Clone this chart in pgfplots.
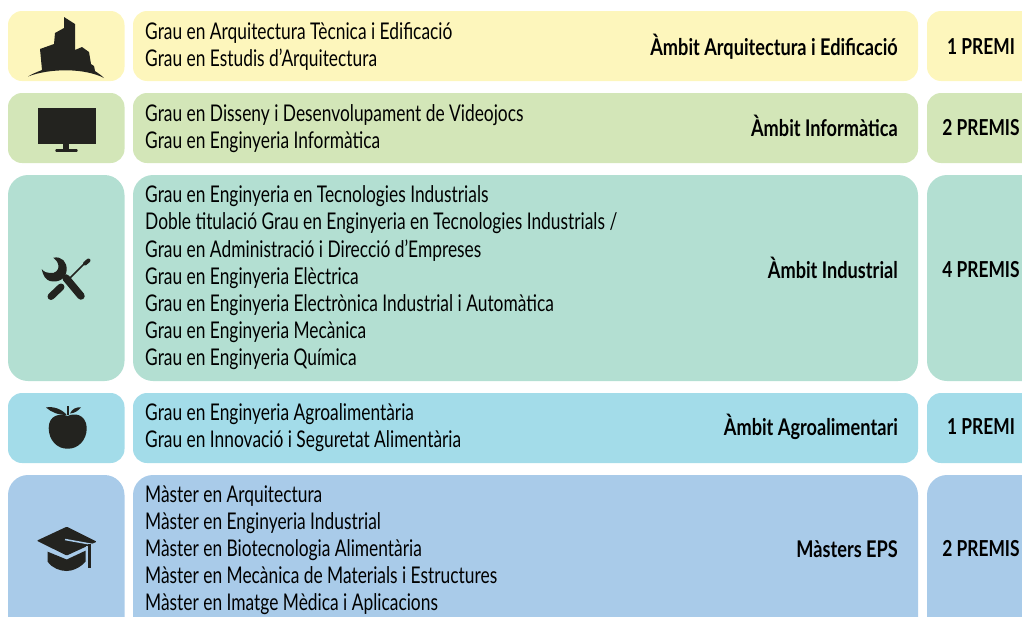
\documentclass[border=0pt]{standalone}
\usepackage{fontspec}
\setmainfont[FakeStretch=0.755,BoldFeatures={FakeStretch=0.79}]{Lato}
\usepackage{pgfplots}
\pgfplotsset{compat=1.18}
\definecolor{cy}{HTML}{FDF6BC}
\definecolor{cg}{HTML}{D3E6B8}
\definecolor{ct}{HTML}{B3DFD2}
\definecolor{cc}{HTML}{A3DCE9}
\definecolor{cb}{HTML}{A9CBE9}
\definecolor{ink}{HTML}{23231F}
\newcommand{\boxx}[6]{% x0 x1 y0 y1 colour radius
  \addplot[fill=#5,draw=none,no markers,rounded corners=#6pt] coordinates {({(#1+#2)/2},#3) (#2,#3) (#2,#4) (#1,#4) (#1,#3) ({(#1+#2)/2},#3)};}
\newcommand{\lft}[2]{\node[anchor=base west,inner sep=0pt,text=black,font=\fontsize{23}{23}\selectfont] at (145,{#1+7.8}) {#2};}
\newcommand{\rgt}[2]{\node[anchor=base east,inner sep=0pt,text=black,font=\fontsize{23}{23}\selectfont\bfseries] at (898,{#1+8}) {#2};}
\newcommand{\prm}[2]{\node[anchor=base,inner sep=0pt,text=black,font=\fontsize{22}{22}\selectfont\bfseries] at (981,{#1+7.6}) {#2};}
\begin{document}
\begin{tikzpicture}
\begin{axis}[scale only axis,width=1022pt,height=616pt,xmin=0,xmax=1022,ymin=0,ymax=616,y dir=reverse,axis line style={draw=none},ticks=none,clip=true]
% boxes
\boxx{8}{124.5}{11}{81}{cy}{14}
\boxx{133}{918}{11}{81}{cy}{14}
\boxx{927}{1060}{11}{81}{cy}{14}
\boxx{8}{124.5}{93}{163}{cg}{14}
\boxx{133}{918}{93}{163}{cg}{14}
\boxx{927}{1060}{93}{163}{cg}{14}
\boxx{8}{124.5}{175}{381}{ct}{20}
\boxx{133}{918}{175}{381}{ct}{20}
\boxx{927}{1060}{175}{381}{ct}{20}
\boxx{8}{124.5}{393}{463}{cc}{14}
\boxx{133}{918}{393}{463}{cc}{14}
\boxx{927}{1060}{393}{463}{cc}{14}
\boxx{8}{124.5}{475}{680}{cb}{20}
\boxx{133}{918}{475}{680}{cb}{20}
\boxx{927}{1060}{475}{680}{cb}{20}
% building
\fill[ink] (64,17) -- (75,24) -- (75,50) -- (82,47) -- (89,52) -- (91,64) -- (94,66) -- (95,71) .. controls (98,73) and (101,75) .. (104,78) .. controls (85,68) and (50,68) .. (28,76.5) .. controls (32,74) and (37,72) .. (42,70) -- (40,49) -- (54,44) -- (55,33) -- (64,28) -- cycle;
% monitor
\fill[ink] (37.7,108) rectangle (95.7,144.3);
\fill[ink] (63.3,144) rectangle (69.3,149.5);
\fill[ink,rounded corners=1pt] (55.3,149) rectangle (77.7,151.8);
% tools
\draw[ink,line width=7.5pt,line cap=round] (81,296) -- (66,278);
\fill[ink] (53.3,257.7) .. controls (62,256) and (67,262) .. (66.7,270) .. controls (66,279) and (58,283) .. (50,281) .. controls (46,280) and (43,276) .. (41.7,269) .. controls (44,272) and (47,273) .. (50,273) .. controls (55,274) and (59,270) .. (58.5,266) .. controls (58,262) and (56,260) .. (53.3,257.7) -- cycle;
\draw[ink,line width=7pt,line cap=round] (51,296.5) -- (61,287);
\draw[ink,line width=1.5pt] (70,278) -- (85,263);
\draw[ink,line width=4pt,line cap=round] (85,263.5) -- (88.5,260.5);
% apple
\fill[ink] (67.7,416) .. controls (73,413) and (86,413) .. (86.7,428) .. controls (87,440) and (78,449) .. (67.7,448.7) .. controls (57,449) and (48.7,440) .. (48.7,428) .. controls (48.7,415) and (60,413) .. (67.7,416) -- cycle;
\fill[ink] (46,407.5) .. controls (53,406) and (62,409) .. (66.7,415) .. controls (58,415) and (51,412) .. (46,407.5) -- cycle;
\fill[ink] (70,413.5) .. controls (72,409) and (76,407) .. (81,407.3) .. controls (78,411) and (75,413) .. (70,413.5) -- cycle;
\draw[ink,line width=1.5pt] (68.2,406) -- (68.2,415);
% cap
\fill[ink,rounded corners=1pt] (36.7,540.7) -- (66.7,526.7) -- (96.7,541.7) -- (66.7,555.5) -- cycle;
\draw[cb,line width=1.5pt] (65,539.5) -- (90,544) -- (97,545);
\draw[cb,line width=1.2pt] (86.5,546) -- (86.5,568);
\draw[ink,line width=3.4pt] (89.3,544) -- (89.3,568);
\fill[ink] (47.7,551.7) -- (66.7,559.5) -- (85.5,550.7) -- (85.5,561.7) .. controls (80,568) and (72,571) .. (66.7,571) .. controls (60,571) and (52,568) .. (47.7,561.7) -- cycle;
% text
\lft{32}{Grau en Arquitectura Tècnica i Edificació}
\lft{59}{Grau en Estudis d’Arquitectura}
\lft{114}{Grau en Disseny i Desenvolupament de Videojocs}
\lft{141}{Grau en Enginyeria Informàtica}
\lft{195}{Grau en Enginyeria en Tecnologies Industrials}
\lft{222}{Doble titulació Grau en Enginyeria en Tecnologies Industrials /}
\lft{250}{Grau en Administració i Direcció d’Empreses}
\lft{277}{Grau en Enginyeria Elèctrica}
\lft{304}{Grau en Enginyeria Electrònica Industrial i Automàtica}
\lft{331}{Grau en Enginyeria Mecànica}
\lft{358}{Grau en Enginyeria Química}
\lft{413}{Grau en Enginyeria Agroalimentària}
\lft{440}{Grau en Innovació i Seguretat Alimentària}
\lft{495}{Màster en Arquitectura}
\lft{522}{Màster en Enginyeria Industrial}
\lft{549}{Màster en Biotecnologia Alimentària}
\lft{576}{Màster en Mecànica de Materials i Estructures}
\lft{603}{Màster en Imatge Mèdica i Aplicacions}
\rgt{47}{Àmbit Arquitectura i Edificació}
\rgt{128}{Àmbit Informàtica}
\rgt{270}{Àmbit Industrial}
\rgt{427}{Àmbit Agroalimentari}
\rgt{549}{Màsters EPS}
\prm{47}{1 PREMI}
\prm{128}{2 PREMIS}
\prm{270}{4 PREMIS}
\prm{427}{1 PREMI}
\prm{549}{2 PREMIS}
\end{axis}
\end{tikzpicture}
\end{document}
